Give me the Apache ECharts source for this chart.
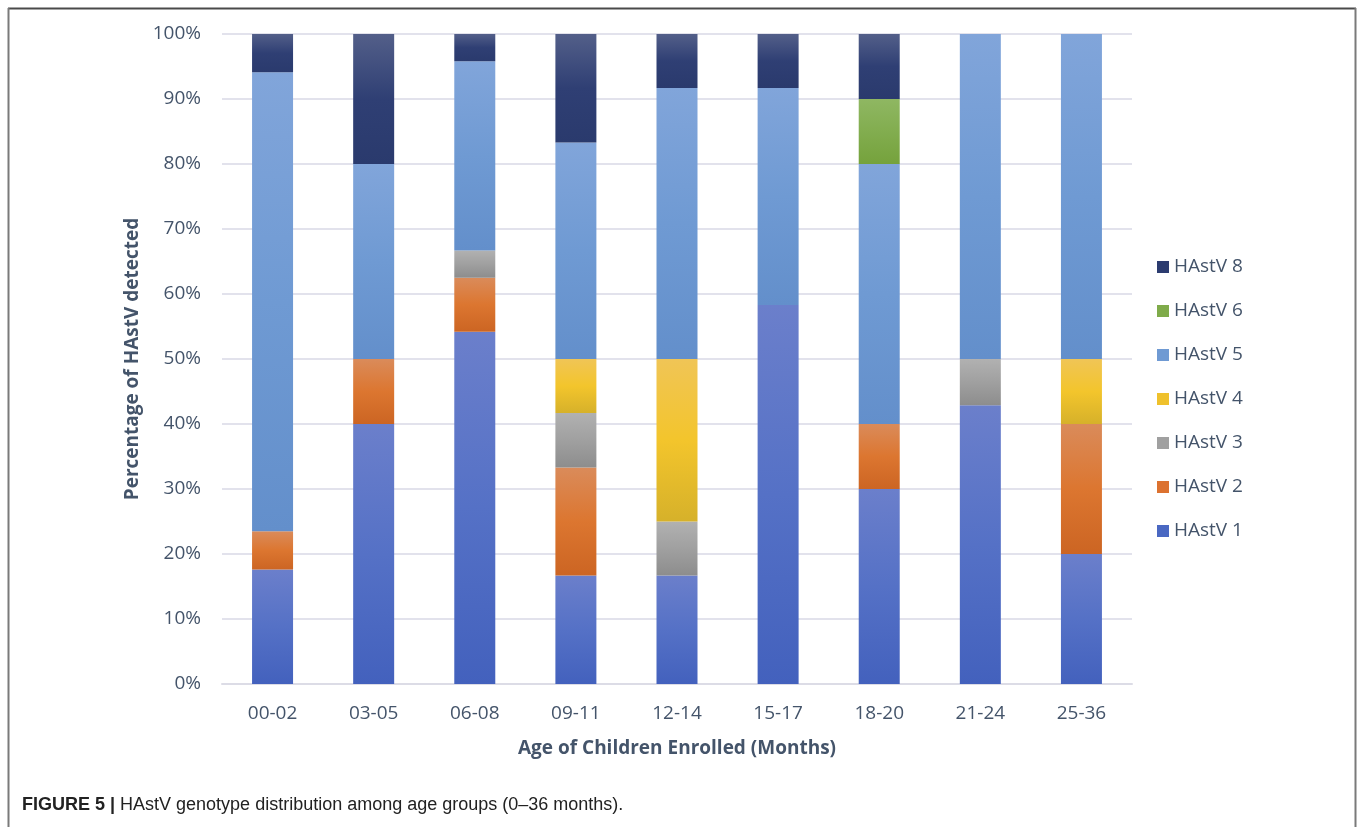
<!DOCTYPE html>
<html>
<head>
<meta charset="utf-8">
<script src="https://cdn.jsdelivr.net/npm/echarts@6/dist/echarts.min.js"></script>
<style>
  html, body { margin: 0; padding: 0; background: #fff; }
  #chart { width: 1357px; height: 827px; }
</style>
</head>
<body>
<div id="chart"></div>
<script>
// Age groups (months)
const categories = ['00-02', '03-05', '06-08', '09-11', '12-14', '15-17', '18-20', '21-24', '25-36'];

// Percentage of each genotype per age group
const hastv1 = [17.6, 40, 54.2, 16.7, 16.7, 58.3, 30, 42.9, 20];
const hastv2 = [5.9, 10, 8.3, 16.6, 0, 0, 10, 0, 20];
const hastv3 = [0, 0, 4.2, 8.4, 8.3, 0, 0, 7.1, 0];
const hastv4 = [0, 0, 0, 8.3, 25, 0, 0, 0, 10];
const hastv5 = [70.6, 30, 29.1, 33.3, 41.7, 33.4, 40, 50, 50];
const hastv6 = [0, 0, 0, 0, 0, 0, 10, 0, 0];
const hastv8 = [5.9, 20, 4.2, 16.7, 8.3, 8.3, 10, 0, 0];

const yTicks = [0, 10, 20, 30, 40, 50, 60, 70, 80, 90, 100];

const textColor = '#44546a';
const captionFont = 'Liberation Sans';

function grad(top, mid, bottom) {
  return new echarts.graphic.LinearGradient(0, 0, 0, 1, [
    { offset: 0, color: top },
    { offset: 0.5, color: mid },
    { offset: 1, color: bottom }
  ]);
}

const seriesDefs = [
  { name: 'HAstV 1', data: hastv1, fill: grad('#6b7fcb', '#5571c6', '#4361bd'), icon: '#4a68c2' },
  { name: 'HAstV 2', data: hastv2, fill: grad('#da8b5a', '#dc7630', '#cc6523'), icon: '#dc7230' },
  { name: 'HAstV 3', data: hastv3, fill: grad('#b1b1b1', '#a0a0a0', '#8d8d8d'), icon: '#a0a0a0' },
  { name: 'HAstV 4', data: hastv4, fill: grad('#f0c556', '#f3c52c', '#d6b12a'), icon: '#efc12c' },
  { name: 'HAstV 5', data: hastv5, fill: grad('#81a5da', '#6f9ad3', '#638fcb'), icon: '#6f9ad3' },
  { name: 'HAstV 6', data: hastv6, fill: grad('#8fb762', '#82ad4f', '#75a23c'), icon: '#7fab4a' },
  { name: 'HAstV 8', data: hastv8, fill: grad('#535f89', '#2f3f74', '#2a3a6d'), icon: '#2c3c70' }
];

const chart = echarts.init(document.getElementById('chart'), null, { renderer: 'canvas' });

chart.setOption({
  animation: false,
  backgroundColor: '#fff',
  textStyle: { fontFamily: 'Open Sans' },
  grid: { left: 222, right: 225, top: 34, bottom: 143 },
  legend: {
    orient: 'vertical',
    left: 1152,
    top: 252,
    itemWidth: 12,
    itemHeight: 12,
    itemGap: 24,
    icon: 'rect',
    data: seriesDefs.slice().reverse().map(s => ({ name: s.name, itemStyle: { color: s.icon } })),
    textStyle: { color: textColor, fontSize: 19, lineHeight: 20, padding: [0, 0, 0, 0] },
    selectedMode: false
  },
  xAxis: {
    type: 'category',
    data: categories,
    name: 'Age of Children Enrolled (Months)',
    nameLocation: 'middle',
    nameGap: 55,
    nameTextStyle: { color: textColor, fontSize: 19, fontWeight: 'bold' },
    axisLine: { lineStyle: { color: '#dcdce6', width: 2 } },
    axisTick: { show: false },
    axisLabel: { color: textColor, fontSize: 19, margin: 20 }
  },
  yAxis: {
    type: 'value',
    min: yTicks[0],
    max: yTicks[yTicks.length - 1],
    interval: 10,
    name: 'Percentage of HAstV detected',
    nameLocation: 'middle',
    nameGap: 80,
    nameTextStyle: { color: textColor, fontSize: 19, fontWeight: 'bold' },
    axisLine: { show: false },
    axisTick: { show: false },
    axisLabel: { color: textColor, fontSize: 19, margin: 21, formatter: '{value}%' },
    splitLine: { lineStyle: { color: '#e2e2ec', width: 2 } }
  },
  series: seriesDefs.map(s => ({
    name: s.name,
    type: 'bar',
    stack: 'total',
    barWidth: 41,
    data: s.data,
    itemStyle: { color: s.fill }
  })),
  graphic: [
    // outer frame, open at the bottom
    { type: 'line', shape: { x1: 8, y1: 8.5, x2: 1356, y2: 8.5 }, style: { stroke: '#4a4a4a', lineWidth: 2 } },
    { type: 'line', shape: { x1: 8.5, y1: 8, x2: 8.5, y2: 827 }, style: { stroke: '#7a7a7a', lineWidth: 2 } },
    { type: 'line', shape: { x1: 1355.5, y1: 8, x2: 1355.5, y2: 827 }, style: { stroke: '#7a7a7a', lineWidth: 2 } },
    {
      type: 'text',
      left: 22,
      top: 796,
      style: {
        text: '{b|FIGURE 5 |} HAstV genotype distribution among age groups (0–36 months).',
        rich: {
          b: { fontWeight: 'bold', fontFamily: captionFont, fontSize: 18, fill: '#222' }
        },
        fontFamily: captionFont,
        fontSize: 18,
        fill: '#222'
      }
    }
  ]
});
</script>
</body>
</html>
